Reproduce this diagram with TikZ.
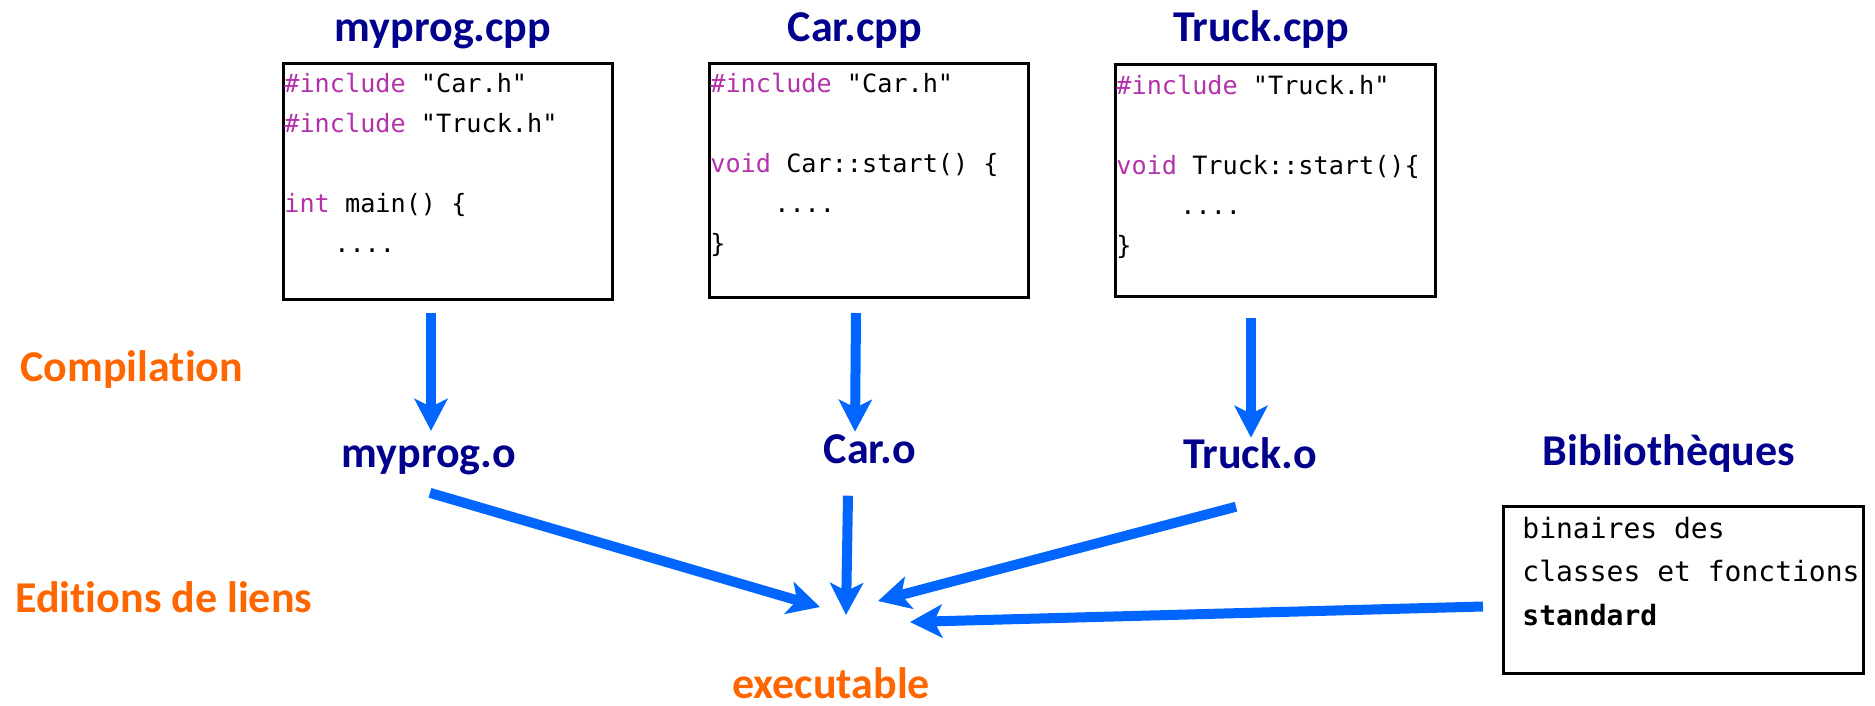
\documentclass[tikz,border=0pt]{standalone}
\usepackage{fontspec}
\usepackage{xcolor}
\usetikzlibrary{arrows.meta, positioning, calc}
\setmainfont{Carlito}[Ligatures={NoCommon}]
\newfontfamily\codefont{DejaVu Sans Mono}
\definecolor{titleblue}{RGB}{0,0,140}
\definecolor{phaseorange}{RGB}{255,102,0}
\definecolor{flowblue}{RGB}{0,102,255}
\definecolor{kwpurple}{RGB}{180,50,170}
\newcommand{\kwd}[1]{\textcolor{kwpurple}{#1}}

\begin{document}
\begin{tikzpicture}[
    x=0.5pt, y=-0.5pt,
    filetitle/.style={
        inner sep=0,
        anchor=base,
        font=\fontsize{22}{26}\selectfont\bfseries,
        text=titleblue
    },
    phase/.style={
        inner sep=0,
        anchor=base west,
        font=\fontsize{22}{26}\selectfont\bfseries,
        text=phaseorange
    },
    codebox/.style={
        rectangle,
        draw=black,
        line width=1.5pt,
        inner sep=0,
        outer sep=0
    },
    codetext/.style={
        inner sep=0,
        anchor=base west,
        align=left,
        text width=160pt,
        font=\codefont\fontsize{12.6}{20}\selectfont,
        execute at begin node={\spaceskip=0.602em\relax\xspaceskip=0.602em\relax}
    },
    flow/.style={
        -{Stealth[length=16pt, width=16.5pt, inset=4pt]},
        line width=5pt,
        flowblue
    }
]
\useasboundingbox (0,0) rectangle (1875,706);

\node (myprogtitle) [filetitle] at (443,42) {myprog.cpp};
\node (cartitle) [filetitle] at (855,42) {Car.cpp};
\node (trucktitle) [filetitle] at (1261,42) {Truck.cpp};
\node (libtitle) [filetitle] at (1669,465) {Bibliothèques};

\node (myprogbox) [codebox, minimum width=164.5pt, minimum height=117.5pt] at (447.5,181.5) {};
\node (carbox) [codebox, minimum width=159.5pt, minimum height=116.5pt] at (868.5,180.5) {};
\node (truckbox) [codebox, minimum width=160pt, minimum height=115.5pt] at (1275,180.5) {};
\node (libbox) [codebox, minimum width=180pt, minimum height=83.5pt] at (1683,589.5) {};

\node (myprogcode) [codetext] at ($(myprogbox.north west)+(1,29)$) {%
\kwd{\#include} "Car.h"\\
\kwd{\#include} "Truck.h"\\[20pt]
\kwd{int} main() \{\\
\hspace*{25pt}....};
\node (carcode) [codetext] at ($(carbox.north west)+(1,29)$) {%
\kwd{\#include} "Car.h"\\[20pt]
\kwd{void} Car::start() \{\\
\hspace*{32pt}....\\
\}};
\node (truckcode) [codetext] at ($(truckbox.north west)+(1,30)$) {%
\kwd{\#include} "Truck.h"\\[20pt]
\kwd{void} Truck::start()\{\\
\hspace*{32pt}....\\
\}};
\node (libcode) [codetext, text width=178pt, font=\codefont\fontsize{14}{21.75}\selectfont] at ($(libbox.north west)+(19,32)$) {%
binaires des\\
classes et fonctions\\
\textbf{standard}};

\node (myprogobj) [filetitle] at (429,467) {myprog.o};
\node (carobj) [filetitle] at (870,463) {Car.o};
\node (truckobj) [filetitle] at (1250,468) {Truck.o};

\node (compil) [phase] at (20,381) {Compilation};
\node (edition) [phase] at (15,612) {Editions de liens};
\node (exe) [phase, anchor=base] at (831,698) {executable};
\coordinate (hub) at (850,612);

\draw [flow] ($(myprogbox.south -| myprogobj.north)+(2,14)$) -- ($(myprogobj.north)+(2,-14)$);
\draw [flow] ($(carbox.south -| carobj.north)+(-14,16)$) -- ($(carobj.north)+(-15,-2)$);
\draw [flow] ($(truckbox.south -| truckobj.north)+(1,22)$) -- ($(truckobj.north)+(1,1)$);

\draw [flow] ($(myprogobj.south)+(1,18)$) -- ($(hub)+(-30,-5)$);
\draw [flow] ($(carobj.south)+(-22,32)$) -- ($(hub)+(-4,3)$);
\draw [flow] ($(truckobj.south)+(-14,38)$) -- ($(hub)+(28,-11)$);
\draw [flow] ($(libbox.west)+(-20,17)$) -- ($(hub)+(60,10)$);
\end{tikzpicture}
\end{document}
